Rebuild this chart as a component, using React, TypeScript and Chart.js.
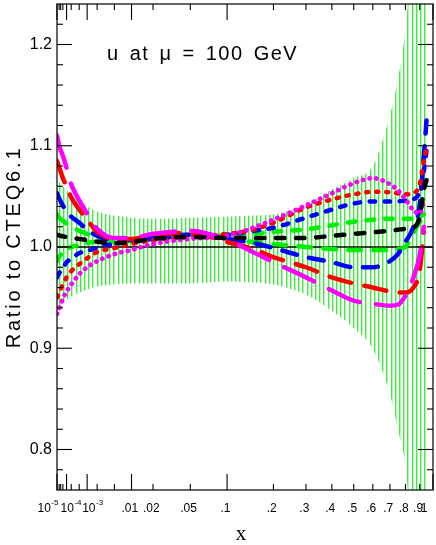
import React, { useEffect, useRef } from 'react';
import { Chart, Scale, registerables } from 'chart.js';

Chart.register(...registerables);

// ---------- data ----------
const X = [1e-5, 2e-5, 5e-5, 1e-4, 2e-4, 5e-4, 1e-3, 2e-3, 5e-3, 0.01, 0.02, 0.05, 0.1, 0.15, 0.2, 0.3, 0.4, 0.5, 0.6, 0.7, 0.75, 0.8, 0.85, 0.9, 0.93, 0.95];

const MAGENTA_LONG = [1.11, 1.10, 1.09, 1.078, 1.062, 1.046, 1.033, 1.018, 1.009, 1.009, 1.013, 1.016, 1.007, 0.995, 0.985, 0.970, 0.957, 0.947, 0.944, 0.942, 0.943, 0.952, 0.968, 0.992, 1.02, null];
const RED_LONG = [1.085, 1.079, 1.068, 1.06, 1.049, 1.037, 1.027, 1.015, 1.008, 1.008, 1.012, 1.014, 1.005, 0.998, 0.990, 0.980, 0.970, 0.964, 0.960, 0.956, 0.955, 0.955, 0.959, 0.977, 1.015, null];
const BLUE_LONG = [1.053, 1.048, 1.041, 1.035, 1.030, 1.024, 1.017, 1.011, 1.007, 1.007, 1.010, 1.012, 1.008, 1.004, 0.999, 0.990, 0.985, 0.980, 0.980, 0.986, 0.993, 1.005, 1.018, 1.042, 1.09, 1.125];
const GREEN_LONG = [1.032, 1.029, 1.026, 1.023, 1.020, 1.016, 1.013, 1.008, 1.005, 1.006, 1.009, 1.011, 1.008, 1.005, 1.003, 1.000, 0.998, 0.997, 0.997, 0.997, 0.998, 1.000, 1.013, 1.025, 1.030, null];
const BLACK = [1.012, 1.0115, 1.0105, 1.010, 1.009, 1.008, 1.0068, 1.0052, 1.0038, 1.005, 1.008, 1.010, 1.009, 1.009, 1.009, 1.009, 1.011, 1.013, 1.0145, 1.016, 1.017, 1.018, 1.019, 1.030, 1.056, 1.066];
const GREEN_SHORT = [0.986, 0.990, 0.995, 0.998, 1.000, 1.002, 1.004, 1.005, 1.006, 1.007, 1.010, 1.012, 1.011, 1.013, 1.015, 1.0175, 1.0215, 1.025, 1.027, 1.028, 1.028, 1.028, 1.028, 1.030, 1.032, null];
const BLUE_SHORT = [0.970, 0.974, 0.979, 0.985, 0.988, 0.994, 0.996, 0.9995, 1.003, 1.005, 1.008, 1.011, 1.012, 1.016, 1.019, 1.029, 1.037, 1.043, 1.045, 1.045, 1.045, 1.046, 1.047, 1.055, 1.075, 1.095];
const RED_SHORT = [0.950, 0.955, 0.963, 0.970, 0.976, 0.983, 0.989, 0.995, 0.999, 1.003, 1.007, 1.010, 1.013, 1.017, 1.024, 1.039, 1.047, 1.052, 1.0545, 1.054, 1.053, 1.052, 1.053, 1.062, 1.085, 1.098];
const MAGENTA_SHORT = [0.934, 0.939, 0.949, 0.956, 0.963, 0.973, 0.980, 0.986, 0.993, 0.997, 1.003, 1.008, 1.011, 1.019, 1.027, 1.041, 1.053, 1.063, 1.068, 1.062, 1.056, 1.047, 1.037, 1.033, 1.045, null];

const BAND_LOW = [0.940, 0.942, 0.945, 0.948, 0.951, 0.955, 0.958, 0.961, 0.963, 0.964, 0.964, 0.964, 0.966, 0.965, 0.963, 0.953, 0.937, 0.920, 0.899, 0.855, 0.820, 0.784, 0.70, 0.62, 0.58, 0.55];
const BAND_HIGH = [1.066, 1.064, 1.060, 1.056, 1.052, 1.045, 1.040, 1.035, 1.031, 1.029, 1.028, 1.029, 1.030, 1.031, 1.032, 1.042, 1.057, 1.068, 1.080, 1.130, 1.165, 1.215, 1.30, 1.40, 1.45, 1.50];

const X_MIN = 1e-5;
const X_MAX = 1;
const Y_MIN = 0.76;
const Y_MAX = 1.24;

const X_MAJOR_TICKS = [1e-5, 1e-4, 1e-3, 0.01, 0.1, 1];
const X_MINOR_TICKS = [2e-5, 3e-5, 5e-5, 2e-4, 5e-4, 2e-3, 5e-3, 0.02, 0.05, 0.2, 0.3, 0.4, 0.5, 0.6, 0.7, 0.8, 0.9];
const Y_MAJOR_TICKS = [0.8, 0.9, 1.0, 1.1, 1.2];
const Y_MINOR_TICKS = [0.78, 0.82, 0.84, 0.86, 0.88, 0.92, 0.94, 0.96, 0.98, 1.02, 1.04, 1.06, 1.08, 1.12, 1.14, 1.16, 1.18, 1.22];

const X_LABEL_VALUES = [1e-5, 1e-4, 1e-3, 0.01, 0.02, 0.05, 0.1, 0.2, 0.3, 0.4, 0.5, 0.6, 0.7, 0.8, 0.9, 1];
const X_LABEL_BASE = ['10', '10', '10', '.01', '.02', '.05', '.1', '.2', '.3', '.4', '.5', '.6', '.7', '.8', '.9', '1'];
const X_LABEL_EXP = ['-5', '-4', '-3', '', '', '', '', '', '', '', '', '', '', '', '', ''];

const TITLE = 'u at \u03bc = 100 GeV';
const X_TITLE = 'x';
const Y_TITLE = 'Ratio to CTEQ6.1';

// ---------- style ----------
const LABEL_SHIFT: Record<number, number> = { 0: -19.5, 1: -6, 2: -5, 15: -9 };
const SANS = '"Liberation Sans", Arial, sans-serif';
const SERIF = '"Liberation Serif", "Times New Roman", serif';

// ---------- cube-root x scale ----------
class CubeRootScale extends (Scale as any) {
  static id = 'cuberoot';
  static defaults = {};
  determineDataLimits() {
    const o = (this as any).options;
    (this as any).min = o.min;
    (this as any).max = o.max;
  }
  buildTicks() {
    return X_MAJOR_TICKS.map((v) => ({ value: v }));
  }
  configure() {
    super.configure();
    const s = this as any;
    s._c0 = Math.cbrt(s.min);
    s._cr = Math.cbrt(s.max) - s._c0;
  }
  getLabelForValue(v: number) {
    return String(v);
  }
  getPixelForValue(v: number) {
    const s = this as any;
    return s.getPixelForDecimal((Math.cbrt(v) - s._c0) / s._cr);
  }
  getValueForPixel(p: number) {
    const s = this as any;
    const u = s._c0 + s.getDecimalForPixel(p) * s._cr;
    return u * u * u;
  }
  getPixelForTick(i: number) {
    const s = this as any;
    return s.getPixelForValue(s.ticks[i].value);
  }
}
Chart.register(CubeRootScale as any);

const pts = (ys: (number | null)[]) =>
  X.map((x, i) => (ys[i] == null ? null : { x, y: ys[i] as number })).filter((p) => p !== null);

const curve = (label: string, ys: (number | null)[], color: string, dash: number[], width = 4.5) => ({
  label,
  data: pts(ys),
  borderColor: color,
  borderWidth: width,
  borderDash: dash,
  borderCapStyle: 'round',
  borderJoinStyle: 'round',
  pointRadius: 0,
  cubicInterpolationMode: 'monotone',
  fill: false,
});

const noPad = (s: any) => {
  s.paddingTop = 0;
  s.paddingBottom = 0;
  s.paddingLeft = 0;
  s.paddingRight = 0;
};

const decorPlugin = {
  id: 'decor',
  afterDraw(chart: any) {
    const { ctx, chartArea: a, scales } = chart;
    const xs = scales.x;
    const ys = scales.y;
    ctx.save();
    ctx.strokeStyle = '#000';
    ctx.lineWidth = 1.2;
    ctx.strokeRect(a.left, a.top, a.right - a.left, a.bottom - a.top);
    ctx.lineWidth = 1.1;
    const seg = (x1: number, y1: number, x2: number, y2: number) => {
      ctx.beginPath();
      ctx.moveTo(x1, y1);
      ctx.lineTo(x2, y2);
      ctx.stroke();
    };
    const xt = (v: number, len: number) => {
      const p = xs.getPixelForValue(v);
      seg(p, a.bottom, p, a.bottom - len);
      seg(p, a.top, p, a.top + len);
    };
    const yt = (v: number, len: number) => {
      const p = ys.getPixelForValue(v);
      seg(a.left, p, a.left + len, p);
      seg(a.right, p, a.right - len, p);
    };
    X_MAJOR_TICKS.forEach((v) => xt(v, 16));
    X_MINOR_TICKS.forEach((v) => xt(v, 6));
    Y_MAJOR_TICKS.forEach((v) => yt(v, 15));
    Y_MINOR_TICKS.forEach((v) => yt(v, 6));

    // x tick labels
    ctx.fillStyle = '#000';
    ctx.textBaseline = 'alphabetic';
    const baseY = a.bottom + 22;
    X_LABEL_VALUES.forEach((v, i) => {
      const px = xs.getPixelForValue(v);
      const base = X_LABEL_BASE[i];
      const exp = X_LABEL_EXP[i];
      ctx.font = '12px ' + SANS;
      if (exp) {
        const left = px + (LABEL_SHIFT[i] || 0);
        ctx.textAlign = 'left';
        ctx.fillText(base, left, baseY);
        const w = ctx.measureText(base).width;
        ctx.font = '8px ' + SANS;
        ctx.fillText(exp, left + w + 0.5, baseY - 7);
      } else if (base.startsWith('.')) {
        ctx.textAlign = 'right';
        const wd = ctx.measureText(base.slice(1)).width;
        ctx.fillText(base, px + wd / 2 + (LABEL_SHIFT[i] || 0), baseY);
      } else {
        ctx.textAlign = 'center';
        ctx.fillText(base, px + (LABEL_SHIFT[i] || 0), baseY);
      }
    });

    // inner title
    ctx.font = '20px ' + SANS;
    ctx.textAlign = 'left';
    (ctx as any).letterSpacing = '1.5px';
    (ctx as any).wordSpacing = '3px';
    ctx.fillText(TITLE, a.left + 50, a.top + 56);

    // axis titles
    (ctx as any).wordSpacing = '0px';
    (ctx as any).letterSpacing = '0px';
    ctx.font = '21px ' + SERIF;
    ctx.textAlign = 'center';
    ctx.fillText(X_TITLE, 241, 540);

    ctx.save();
    ctx.translate(20, (a.top + a.bottom) / 2);
    ctx.rotate(-Math.PI / 2);
    ctx.font = '20px ' + SANS;
    (ctx as any).letterSpacing = '2.8px';
    ctx.textAlign = 'center';
    ctx.fillText(Y_TITLE, 0, 0);
    ctx.restore();

    ctx.restore();
  },
};

export default function App() {
  const ref = useRef<HTMLCanvasElement | null>(null);
  useEffect(() => {
    const canvas = ref.current;
    if (!canvas) return;
    const pc = document.createElement('canvas');
    pc.width = 21;
    pc.height = 2;
    const pctx = pc.getContext('2d')!;
    [0, 4, 8, 13, 17].forEach((x) => {
      pctx.fillStyle = 'rgb(60,238,60)';
      pctx.fillRect(x, 0, 1, 2);
      pctx.fillStyle = 'rgb(175,248,175)';
      pctx.fillRect(x + 1, 0, 1, 2);
    });
    const pattern = canvas.getContext('2d')!.createPattern(pc, 'repeat');

    const datasets: any[] = [
      curve('black', BLACK, '#000000', [8.5, 11.5]),
      curve('magenta dotted', MAGENTA_SHORT, '#ff00ff', [0.1, 6.6], 4.8),
      curve('magenta long', MAGENTA_LONG, '#ff00ff', [33.5, 16.5]),
      curve('red dotted', RED_SHORT, '#ff0000', [2.2, 7.8]),
      curve('red long', RED_LONG, '#ff0000', [22.5, 13.5]),
      curve('blue dotted', BLUE_SHORT, '#0000ff', [5.5, 9.5]),
      curve('blue long', BLUE_LONG, '#0000ff', [15, 12.5]),
      curve('green short', GREEN_SHORT, '#00ee00', [7.5, 11.2]),
      curve('green long', GREEN_LONG, '#00ee00', [12.5, 12.5]),
      {
        label: 'one',
        data: [{ x: X_MIN, y: 1 }, { x: X_MAX, y: 1 }],
        borderColor: '#000',
        borderWidth: 1.3,
        pointRadius: 0,
        fill: false,
      },
      {
        label: 'band low',
        data: pts(BAND_LOW),
        borderColor: 'rgba(0,0,0,0)',
        borderWidth: 0,
        pointRadius: 0,
        cubicInterpolationMode: 'monotone',
        fill: false,
      },
      {
        label: 'band high',
        data: pts(BAND_HIGH),
        borderColor: 'rgba(0,0,0,0)',
        borderWidth: 0,
        pointRadius: 0,
        cubicInterpolationMode: 'monotone',
        fill: '-1',
        backgroundColor: pattern,
      },
    ];

    const chart = new Chart(canvas, {
      type: 'line',
      data: { datasets },
      options: {
        responsive: false,
        animation: false,
        events: [],
        layout: { padding: { left: 0, top: 4, right: 3, bottom: 0 } },
        plugins: {
          legend: { display: false },
          tooltip: { enabled: false },
          title: { display: false },
        },
        scales: {
          x: {
            type: 'cuberoot',
            position: 'bottom',
            min: X_MIN,
            max: X_MAX,
            ticks: { display: false },
            grid: { display: false, drawTicks: false },
            border: { display: false },
            afterFit: (s: any) => {
              s.height = 55;
              noPad(s);
            },
          },
          y: {
            type: 'linear',
            min: Y_MIN,
            max: Y_MAX,
            afterBuildTicks: (s: any) => {
              s.ticks = Y_MAJOR_TICKS.map((v) => ({ value: v }));
            },
            ticks: {
              callback: (v: any) => Number(v).toFixed(1),
              font: { family: SANS, size: 16 },
              color: '#000',
              padding: 5,
            },
            grid: { display: false, drawTicks: false },
            border: { display: false },
            afterFit: (s: any) => {
              s.width = 57;
              noPad(s);
            },
          },
        } as any,
      },
      plugins: [decorPlugin],
    } as any);
    return () => chart.destroy();
  }, []);
  return (
    <div style={{ position: 'fixed', left: 0, top: 0, width: 436, height: 545, background: '#fff' }}>
      <canvas ref={ref} width={436} height={545} style={{ display: 'block' }} />
    </div>
  );
}
